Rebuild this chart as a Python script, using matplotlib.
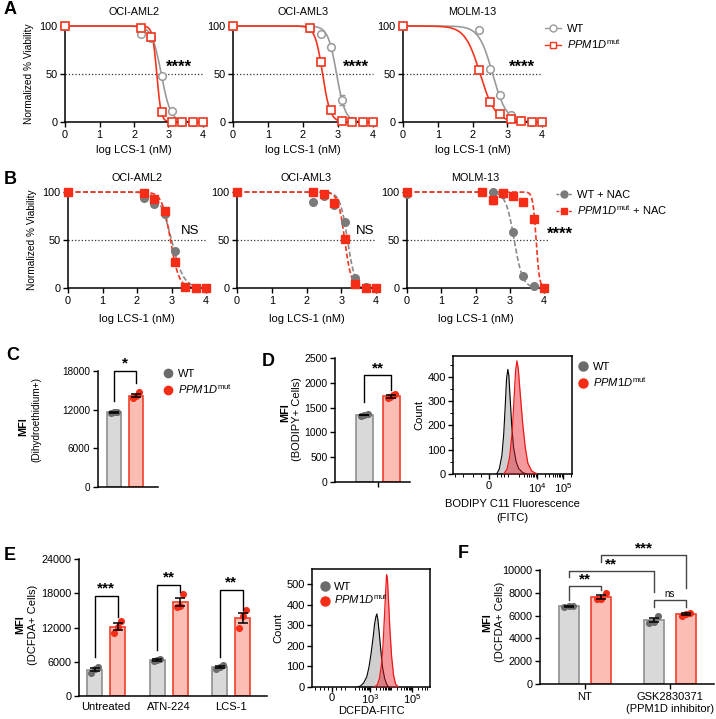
import numpy as np
import matplotlib
matplotlib.use('Agg')
import matplotlib.pyplot as plt
from matplotlib.lines import Line2D

plt.rcParams['font.family'] = ['Liberation Sans', 'DejaVu Sans']
plt.rcParams['mathtext.fontset'] = 'custom'
plt.rcParams['mathtext.rm'] = 'Liberation Sans'
plt.rcParams['mathtext.it'] = 'Liberation Sans:italic'
plt.rcParams['mathtext.bf'] = 'Liberation Sans:bold'
plt.rcParams['axes.linewidth'] = 1.1
plt.rcParams['xtick.major.width'] = 1.0
plt.rcParams['ytick.major.width'] = 1.0
plt.rcParams['xtick.major.size'] = 3.5
plt.rcParams['ytick.major.size'] = 3.5

# ---------------- data ----------------
log_dose = [0, 2.2, 2.5, 2.8, 3.1, 3.4, 3.7, 4.0]
cell_lines = ['OCI-AML2', 'OCI-AML3', 'MOLM-13']

# Panel A (LCS-1)  WT / PPM1D-mut viability
a_aml2_wt = [100, 92, 87, 48, 11, 0, 0, 0]
a_aml2_mut = [100, 98, 89, 10, 0, 0, 0, 0]
a_aml3_wt = [100, 98, 92, 78, 23, 1, 0, 0]
a_aml3_mut = [100, 98, 62, 12, 1, 0, 0, 0]
a_molm_wt = [100, 96, 55, 28, 7, 2, 0, 0]
a_molm_mut = [100, 54, 21, 8, 3, 1.5, 0, 0]
a_aml3_wt_err = [0, 1, 2, 3, 5, 1, 0, 0]
# fitted logIC50, Hill slope
a_fit_wt = [(2.79, 3.2), (2.96, 3.5), (2.58, 2.2)]
a_fit_mut = [(2.66, 7.0), (2.56, 4.0), (2.22, 2.0)]

# Panel B (LCS-1 + NAC)
b_aml2_wt = [100, 94, 88, 77, 39, 1, 0, 0]
b_aml2_mut = [100, 99, 93, 80, 27, 1, 0, 0]
b_aml3_wt = [100, 90, 96, 86, 69, 10, 1, 0]
b_aml3_mut = [100, 100, 98, 89, 51, 4.5, 0, 0]
b_molm_wt = [98, 100, 100, 98, 58, 12, 2, 0]
b_molm_mut = [100, 100, 92, 99, 96, 90, 72, 0]
b_molm_mut_err = [0, 0, 5, 0, 0, 0, 0, 0]
b_fit_wt = [(3.0, 2.5), (3.18, 4.0), (3.13, 3.5)]
b_fit_mut = [(2.97, 3.5), (3.1, 4.5), (3.77, 9.0)]

a_sig = ['****', '****', '****']
b_sig = ['NS', 'NS', '****']

# Panel C (Dihydroethidium MFI)
c_wt_pts = [11500, 11650, 11700]
c_mut_pts = [13850, 14150, 14700]
c_means = [11620, 14150]
c_errs = [70, 250]

# Panel D (BODIPY MFI)
d_wt_pts = [1340, 1350, 1365]
d_mut_pts = [1690, 1720, 1745, 1770]
d_means = [1352, 1725]
d_errs = [8, 25]

# Panel D histogram (BODIPY C11, display units)
d_wt_u = [2.45, 2.55, 2.65, 2.72, 2.78, 2.83, 2.88, 2.92, 2.97, 3.03, 3.1, 3.2, 3.3, 3.45, 3.62]
d_wt_cnt = [0, 20, 75, 160, 280, 390, 430, 405, 310, 200, 110, 50, 22, 6, 0]
d_mut_u = [2.72, 2.85, 2.95, 3.05, 3.12, 3.18, 3.23, 3.28, 3.35, 3.45, 3.55, 3.65, 3.8, 4.0]
d_mut_cnt = [0, 20, 70, 175, 310, 425, 465, 435, 340, 210, 110, 45, 12, 0]

# Panel E (DCFDA MFI)
e_groups = ['Untreated', 'ATN-224', 'LCS-1']
e_wt_pts = [[4050, 4650, 5100], [6050, 6300, 6500], [4800, 5100, 5400]]
e_mut_pts = [[11100, 12100, 13200], [15600, 15800, 17900], [11900, 14000, 15100]]
e_wt_means = [4600, 6280, 5100]
e_mut_means = [12130, 16430, 13670]
e_wt_errs = [300, 130, 170]
e_mut_errs = [600, 700, 950]
e_sig = ['***', '**', '**']

# Panel E histogram (DCFDA-FITC)
e_wt_u = [2.4, 2.55, 2.7, 2.85, 2.95, 3.05, 3.15, 3.22, 3.28, 3.33, 3.38, 3.45, 3.52, 3.6, 3.7, 3.8, 3.9]
e_wt_cnt = [0, 5, 20, 50, 95, 160, 240, 305, 340, 355, 325, 255, 175, 95, 42, 12, 0]
e_mut_u = [3.2, 3.35, 3.45, 3.55, 3.62, 3.68, 3.74, 3.79, 3.83, 3.88, 3.95, 4.03, 4.12, 4.22, 4.35]
e_mut_cnt = [0, 10, 40, 110, 200, 320, 450, 545, 530, 430, 280, 150, 60, 15, 0]

# Panel F (DCFDA MFI, PPM1D inhibitor)
f_groups = ['NT', 'GSK2830371\n(PPM1D inhibitor)']
f_wt_pts = [[6750, 6800, 6850], [5330, 5480, 5980]]
f_mut_pts = [[7430, 7500, 7950], [5970, 6120, 6270]]
f_wt_means = [6800, 5600]
f_mut_means = [7630, 6120]
f_wt_errs = [30, 200]
f_mut_errs = [160, 90]

# ---------------- style ----------------
GRAY_L = '#9a9a9a'
RED = '#f2351f'
PT_WT = '#6b6b6b'
PT_MUT = '#f52c16'
BAR_WT_F, BAR_WT_E = '#d9d9d9', '#8f8f8f'
BAR_MUT_F, BAR_MUT_E = '#fbbdb4', '#f0402a'
MUT_LABEL = r'$\mathit{PPM1D}^{\mathrm{mut}}$'
TK = 7.5   # tick label size
LB = 8     # axis label size

W, H = 716, 719
fig = plt.figure(figsize=(W / 100, H / 100), dpi=100)


def add_ax(x0, y0, x1, y1):
    return fig.add_axes([x0 / W, 1 - y1 / H, (x1 - x0) / W, (y1 - y0) / H])


def ftext(x, y, s, **kw):
    fig.text(x / W, 1 - y / H, s, **kw)


def logistic(x, ic50, hill):
    return 100.0 / (1.0 + 10 ** ((x - ic50) * hill))


xs = np.linspace(0, 4, 400)

# ---------------- Panel A ----------------
a_rects = [(65, 26, 203, 122), (233, 26, 373, 122), (403, 26, 542, 122)]
a_wt = [a_aml2_wt, a_aml3_wt, a_molm_wt]
a_mut = [a_aml2_mut, a_aml3_mut, a_molm_mut]
a_wt_err = [None, a_aml3_wt_err, None]
a_star_x = [3.3, 3.5, 3.43]
for i, r in enumerate(a_rects):
    ax = add_ax(*r)
    ax.set_xlim(0, 4)
    ax.set_ylim(0, 100)
    ax.plot([0, 4], [50, 50], ls=':', color='#333333', lw=0.9, clip_on=False)
    ax.plot(xs, logistic(xs, *a_fit_wt[i]), color=GRAY_L, lw=1.2, clip_on=False)
    ax.plot(xs, logistic(xs, *a_fit_mut[i]), color=RED, lw=1.2, clip_on=False)
    if a_wt_err[i] is not None:
        ax.errorbar(log_dose, a_wt[i], yerr=a_wt_err[i], fmt='none', ecolor=GRAY_L, elinewidth=1, capsize=2.5, clip_on=False)
    ax.plot(log_dose, a_wt[i], 'o', mfc='white', mec=GRAY_L, mew=1.1, ms=5.5, clip_on=False, zorder=4)
    ax.plot(log_dose, a_mut[i], 's', mfc='white', mec=RED, mew=1.2, ms=5.5, clip_on=False, zorder=5)
    ax.text(a_star_x[i], 57, a_sig[i], ha='center', va='center', fontsize=12, fontweight='bold')
    ax.set_xticks([0, 1, 2, 3, 4])
    ax.set_yticks([0, 50, 100])
    ax.tick_params(labelsize=TK + 0.3, pad=2)
    ax.spines[['top', 'right']].set_visible(False)
    ax.set_title(cell_lines[i], fontsize=7.8, pad=8)
    ax.set_xlabel('log LCS-1 (nM)', fontsize=LB, labelpad=4)
    if i == 0:
        ax.set_ylabel('Normalized % Viability', fontsize=7.3, labelpad=4)
    if i == 2:
        h = [Line2D([], [], color=GRAY_L, marker='o', mfc='white', mec=GRAY_L, ms=5, lw=1),
             Line2D([], [], color=RED, marker='s', mfc='white', mec=RED, ms=5, lw=1)]
        ax.legend(h, ['WT', MUT_LABEL], loc='upper left', bbox_to_anchor=(539 / W, 1 - 18 / H),
                  bbox_transform=fig.transFigure, frameon=False, fontsize=LB, handlelength=1.5,
                  handletextpad=0.5, labelspacing=0.35, borderpad=0)

# ---------------- Panel B ----------------
b_rects = [(68, 192, 206, 288), (237, 192, 376, 288), (407, 192, 544, 288)]
b_wt = [b_aml2_wt, b_aml3_wt, b_molm_wt]
b_mut = [b_aml2_mut, b_aml3_mut, b_molm_mut]
b_star_x = [3.54, 3.69, 4.47]
for i, r in enumerate(b_rects):
    ax = add_ax(*r)
    ax.set_xlim(0, 4)
    ax.set_ylim(0, 100)
    ax.plot([0, 4.15 if i == 2 else 4], [50, 50], ls=':', color='#333333', lw=0.9, clip_on=False)
    ax.plot(xs, logistic(xs, *b_fit_wt[i]), color='#8a8a8a', lw=1.2, ls=(0, (3, 1.5)), clip_on=False)
    ax.plot(xs, logistic(xs, *b_fit_mut[i]), color=RED, lw=1.2, ls=(0, (3, 1.5)), clip_on=False)
    if i == 2:
        ax.errorbar(log_dose, b_mut[i], yerr=b_molm_mut_err, fmt='none', ecolor=RED, elinewidth=1, capsize=2.5, clip_on=False)
    ax.plot(log_dose, b_wt[i], 'o', color='#7a7a7a', ms=5.5, clip_on=False, zorder=4)
    ax.plot(log_dose, b_mut[i], 's', color=PT_MUT, ms=5.5, clip_on=False, zorder=5)
    ax.text(b_star_x[i], 59 if i < 2 else 56, b_sig[i], ha='center', va='center',
            fontsize=9.5 if i < 2 else 12, fontweight='normal' if i < 2 else 'bold')
    ax.set_xticks([0, 1, 2, 3, 4])
    ax.set_yticks([0, 50, 100])
    ax.tick_params(labelsize=TK + 0.3, pad=2)
    ax.spines[['top', 'right']].set_visible(False)
    ax.set_title(cell_lines[i], fontsize=7.8, pad=8)
    ax.set_xlabel('log LCS-1 (nM)', fontsize=LB, labelpad=6)
    if i == 0:
        ax.set_ylabel('Normalized % Viability', fontsize=7.3, labelpad=4)
    if i == 2:
        h = [Line2D([], [], color='#7a7a7a', marker='o', ms=5, lw=1, ls=(0, (2, 1))),
             Line2D([], [], color=PT_MUT, marker='s', ms=5, lw=1, ls=(0, (2, 1)))]
        ax.legend(h, ['WT + NAC', MUT_LABEL + ' + NAC'], loc='upper left', bbox_to_anchor=(550 / W, 1 - 184 / H),
                  bbox_transform=fig.transFigure, frameon=False, fontsize=LB, handlelength=1.5,
                  handletextpad=0.4, labelspacing=0.35, borderpad=0)


# ---------------- bar helper ----------------
def bars(ax, centers, off, width, wt_means, wt_errs, wt_pts, mut_means, mut_errs, mut_pts):
    for j, c in enumerate(centers):
        for pos, m, e, pts, fc, ec, pc in [(c - off, wt_means[j], wt_errs[j], wt_pts[j], BAR_WT_F, BAR_WT_E, PT_WT),
                                           (c + off, mut_means[j], mut_errs[j], mut_pts[j], BAR_MUT_F, BAR_MUT_E, PT_MUT)]:
            ax.bar(pos, m, width=width, color=fc, edgecolor=ec, linewidth=1.2, zorder=2)
            n = len(pts)
            jit = np.linspace(-0.22, 0.22, n) * width
            ax.scatter(pos + jit, pts, s=26, color=pc, zorder=3, clip_on=False, linewidths=0)
            ax.errorbar(pos, m, yerr=e, fmt='none', ecolor='black', elinewidth=1.1, capsize=3.5, capthick=1.1, zorder=4)
    ax.spines[['top', 'right']].set_visible(False)


def bracket(ax, x1, x2, ytop, y1, y2, label, ly, fs=11, color='black', lw=1.0, weight='bold'):
    ax.plot([x1, x1, x2, x2], [y1, ytop, ytop, y2], color=color, lw=lw, clip_on=False, zorder=5)
    ax.text((x1 + x2) / 2, ly, label, ha='center', va='center', fontsize=fs, fontweight=weight, clip_on=False)


# ---------------- Panel C ----------------
ax = add_ax(98, 371, 158, 487)
ax.set_xlim(-0.727, 2.0)
ax.set_ylim(0, 18000)
bars(ax, [0.5], 0.5, 0.68, [c_means[0]], [c_errs[0]], [c_wt_pts], [c_means[1]], [c_errs[1]], [c_mut_pts])
ax.set_xticks([])
ax.set_yticks([0, 6000, 12000, 18000])
ax.tick_params(labelsize=7.2, pad=2)
bracket(ax, 0, 1, 18000, 13400, 16100, '*', 19100)
ftext(23, 427, 'MFI', rotation=90, ha='center', va='center', fontsize=7.8, fontweight='bold')
ftext(36, 420, '(Dihydroethidium+)', rotation=90, ha='center', va='center', fontsize=7.2)
h = [Line2D([], [], color=PT_WT, marker='o', ls='none', ms=6),
     Line2D([], [], color=PT_MUT, marker='o', ls='none', ms=6)]
ax.legend(h, ['WT', MUT_LABEL], loc='upper left', bbox_to_anchor=(158 / W, 1 - 363 / H),
          bbox_transform=fig.transFigure, frameon=False, fontsize=LB, handlelength=0.8,
          handletextpad=0.5, labelspacing=0.3, borderpad=0)

# ---------------- Panel D bars ----------------
ax = add_ax(335, 358, 410, 482)
ax.set_xlim(-1.09, 1.685)
ax.set_ylim(0, 2500)
bars(ax, [0.5], 0.5, 0.63, [d_means[0]], [d_errs[0]], [d_wt_pts], [d_means[1]], [d_errs[1]], [d_mut_pts])
ax.set_xticks([0.5])
ax.set_xticklabels([''])
ax.set_yticks([0, 500, 1000, 1500, 2000, 2500])
ax.tick_params(labelsize=TK, pad=2)
bracket(ax, 0, 1, 2160, 1610, 1860, '**', 2290)
ftext(285, 413, 'MFI', rotation=90, ha='center', va='center', fontsize=7.8, fontweight='bold')
ftext(297, 419, '(BODIPY+ Cells)', rotation=90, ha='center', va='center', fontsize=LB)


# ---------------- histograms ----------------
def histo(ax, wu, wc, mu, mc):
    ax.fill_between(wu, wc, color='#cfcfcf', lw=0, zorder=1)
    ax.plot(wu, wc, color='black', lw=0.8, zorder=2)
    ax.fill_between(mu, mc, color='#e8202a', alpha=0.45, lw=0, zorder=3)
    ax.plot(mu, mc, color='#f01818', lw=0.9, zorder=4)
    ax.tick_params(labelsize=8, pad=1.5)
    ax.tick_params(which='minor', length=2, width=0.7)


# Panel D histogram
ax = add_ax(453, 356, 572, 474)
ax.set_xlim(0.77, 5.35)
ax.set_ylim(0, 485)
histo(ax, d_wt_u, d_wt_cnt, d_mut_u, d_mut_cnt)
ax.set_xticks([2.15, 4, 5])
ax.set_xticklabels(['0', r'$10^4$', r'$10^5$'])
ax.set_xticks([2.15 - 1.3, 2.15 - 1.0, 2.15 - 0.6, 2.15 - 0.3, 2.15 + 0.3, 2.15 + 0.6, 2.6, 2.9, 3.3, 3.5, 3.6, 3.7, 3.78, 3.85, 3.9, 3.95,
               4.3, 4.48, 4.6, 4.7, 4.78, 4.85, 4.9, 4.95, 5.3], minor=True)
ax.set_yticks([0, 100, 200, 300, 400])
ax.set_yticks([50, 150, 250, 350, 450], minor=True)
ax.set_ylabel('Count', fontsize=LB, labelpad=2)
ax.set_xlabel('BODIPY C11 Fluorescence\n(FITC)', fontsize=LB, labelpad=3, linespacing=1.5)
h = [Line2D([], [], color=PT_WT, marker='o', ls='none', ms=6.5),
     Line2D([], [], color=PT_MUT, marker='o', ls='none', ms=6.5)]
ax.legend(h, ['WT', MUT_LABEL], loc='upper left', bbox_to_anchor=(573 / W, 1 - 356 / H),
          bbox_transform=fig.transFigure, frameon=False, fontsize=LB, handlelength=0.8,
          handletextpad=0.5, labelspacing=0.3, borderpad=0)

# ---------------- Panel E bars ----------------
ax = add_ax(79, 559, 267, 696)
ax.set_xlim(-0.432, 2.576)
ax.set_ylim(0, 24000)
bars(ax, [0, 1, 2], 0.184, 0.24, e_wt_means, e_wt_errs, e_wt_pts, e_mut_means, e_mut_errs, e_mut_pts)
ax.set_xticks([0, 1, 2])
ax.set_xticklabels(e_groups)
ax.set_yticks([0, 6000, 12000, 18000, 24000])
ax.tick_params(labelsize=7.8, pad=2)
ax.tick_params(axis='x', length=0, pad=4, labelsize=LB)
e_br = [(17500, 6830, 13840), (19450, 8060, 18260), (18570, 6880, 15070)]
for j, (yt, y1, y2) in enumerate(e_br):
    bracket(ax, j - 0.184, j + 0.184, yt, y1, y2, e_sig[j], yt + 1300)
ftext(20, 625, 'MFI', rotation=90, ha='center', va='center', fontsize=7.8, fontweight='bold')
ftext(33, 625, '(DCFDA+ Cells)', rotation=90, ha='center', va='center', fontsize=LB)

# Panel E histogram
ax = add_ax(312, 569, 430, 687)
ax.set_xlim(0.24, 5.86)
ax.set_ylim(0, 573)
histo(ax, e_wt_u, e_wt_cnt, e_mut_u, e_mut_cnt)
ax.set_xticks([1.19, 3, 5])
ax.set_xticklabels(['0', r'$10^3$', r'$10^5$'])
ax.tick_params(axis='x', pad=0.5)
ax.set_xticks([0.4, 0.6, 0.8, 1.0, 1.4, 1.6, 1.8, 2.3, 2.48, 2.6, 2.7, 2.78, 2.85, 2.9, 2.95,
               3.3, 3.48, 3.6, 3.7, 3.78, 3.85, 3.9, 3.95, 4.0, 4.3, 4.48, 4.6, 4.7, 4.78, 4.85, 4.9, 4.95,
               5.3, 5.48, 5.6, 5.7], minor=True)
ax.set_yticks([0, 100, 200, 300, 400, 500])
ax.set_ylabel('Count', fontsize=LB, labelpad=2)
ax.set_xlabel('DCFDA-FITC', fontsize=LB, labelpad=0)
h = [Line2D([], [], color=PT_WT, marker='o', ls='none', ms=6.5),
     Line2D([], [], color=PT_MUT, marker='o', ls='none', ms=6.5)]
ax.legend(h, ['WT', MUT_LABEL], loc='upper left', bbox_to_anchor=(315 / W, 1 - 576 / H),
          bbox_transform=fig.transFigure, frameon=False, fontsize=LB, handlelength=0.8,
          handletextpad=0.4, labelspacing=0.1, borderpad=0)

# ---------------- Panel F ----------------
ax = add_ax(540, 570, 714, 684)
ax.set_xlim(-0.53, 1.52)
ax.set_ylim(0, 10000)
bars(ax, [0, 1], 0.19, 0.235, f_wt_means, f_wt_errs, f_wt_pts, f_mut_means, f_mut_errs, f_mut_pts)
ax.set_xticks([0, 1])
ax.set_xticklabels(f_groups, linespacing=1.3)
ax.set_yticks([0, 2000, 4000, 6000, 8000, 10000])
ax.tick_params(labelsize=7.8, pad=2)
ax.tick_params(axis='x', labelsize=LB)
BC = '#444444'
bracket(ax, -0.19, 0.19, 8600, 7400, 8250, '**', 9150, color=BC)
bracket(ax, -0.19, 1 - 0.19, 9900, 9410, 8100, '**', 10500, color=BC)
bracket(ax, 0.19, 1 + 0.19, 11300, 10700, 8440, '***', 11900, color=BC)
bracket(ax, 1 - 0.19, 1 + 0.19, 7400, 6780, 6780, 'ns', 7900, fs=7, color=BC, weight='normal')
ftext(487, 623, 'MFI', rotation=90, ha='center', va='center', fontsize=7.8, fontweight='bold')
ftext(500, 622, '(DCFDA+ Cells)', rotation=90, ha='center', va='center', fontsize=LB)

# ---------------- panel letters ----------------
for lx, ly, s in [(4, 10, 'A'), (4, 180, 'B'), (6, 356, 'C'), (262, 361, 'D'), (4, 556, 'E'), (458, 554, 'F')]:
    ftext(lx, ly, s, fontsize=13, fontweight='bold', ha='left', va='center')

fig.savefig('out.png', dpi=100)
